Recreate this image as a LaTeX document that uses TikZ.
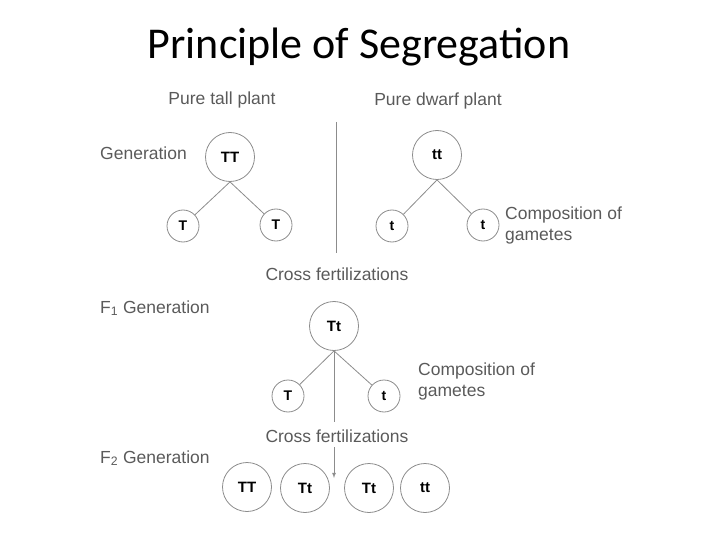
\documentclass[tikz,border=0pt]{standalone}
\usepackage{fontspec}
\setmainfont{Liberation Sans}
\newfontfamily\titlefont{Carlito}
\definecolor{txtgray}{RGB}{90,90,90}
\definecolor{linegray}{RGB}{140,140,140}
\begin{document}
\begin{tikzpicture}
  [x=1pt,y=-1pt,
   big/.style={circle,draw=linegray,thick,minimum size=49pt,inner sep=0pt,font=\fontsize{15}{15}\selectfont\bfseries},
   small/.style={circle,draw=linegray,thick,minimum size=32pt,inner sep=0pt,font=\fontsize{14}{14}\selectfont\bfseries},
   lbl/.style={text=txtgray,inner sep=0pt,font=\fontsize{17.5}{21}\selectfont},
   link/.style={draw=linegray,thick}]
  \useasboundingbox (0,0) rectangle (720,540);

  \node (title) at (359,47) {\titlefont\fontsize{44}{44}\selectfont Principle of Segregation};

  % parents
  \node[lbl] (tall) at (222,100) {Pure tall plant};
  \node[lbl] (dwarf) at (438,101) {Pure dwarf plant};
  \node[lbl,anchor=west] (gen) at (100,153) {Generation};
  \node[big] (TT) at (230,157) {TT};
  \node[big] (tt) at (437,155) {tt};
  \node[small] (T1) at (183,226) {T};
  \node[small] (T2) at (276,225) {T};
  \node[small] (t1) at (392,226) {t};
  \node[small] (t2) at (483,225) {t};
  \node[lbl,anchor=west,align=left] (comp1) at (505,225) {Composition of\\gametes};
  \coordinate (divtop) at (336,122);
  \coordinate (divbot) at (336,253);

  % F1
  \node[lbl] (cross1) at (337,274) {Cross fertilizations};
  \node[lbl,anchor=west] (f1) at (100,308) {F\textsubscript{1} Generation};
  \node[big] (Tt) at (334,326) {Tt};
  \node[small] (gT) at (288,396) {T};
  \node[small] (gt) at (384,396) {t};
  \node[lbl,anchor=west,align=left] (comp2) at (418,381) {Composition of\\gametes};
  \coordinate (stem) at (334,422);

  % F2
  \node[lbl] (cross2) at (337,436) {Cross fertilizations};
  \node[lbl,anchor=west] (f2) at (100,458) {F\textsubscript{2} Generation};
  \node[big] (c1) at (247,487) {TT};
  \node[big] (c2) at (305,488) {Tt};
  \node[big] (c3) at (369,488) {Tt};
  \node[big] (c4) at (425,488) {tt};
  \coordinate (arrtop) at (334,447);
  \coordinate (arrend) at (334,478);

  \foreach \from/\to in {TT/T1,TT/T2,tt/t1,tt/t2,Tt/gT,Tt/gt}
    \draw[link] (\from.south) -- (\to);
  \draw[link] (divtop) -- (divbot);
  \draw[link] (Tt.south) -- (stem);
  \draw[link,-latex] (arrtop) -- (arrend);

\end{tikzpicture}
\end{document}
